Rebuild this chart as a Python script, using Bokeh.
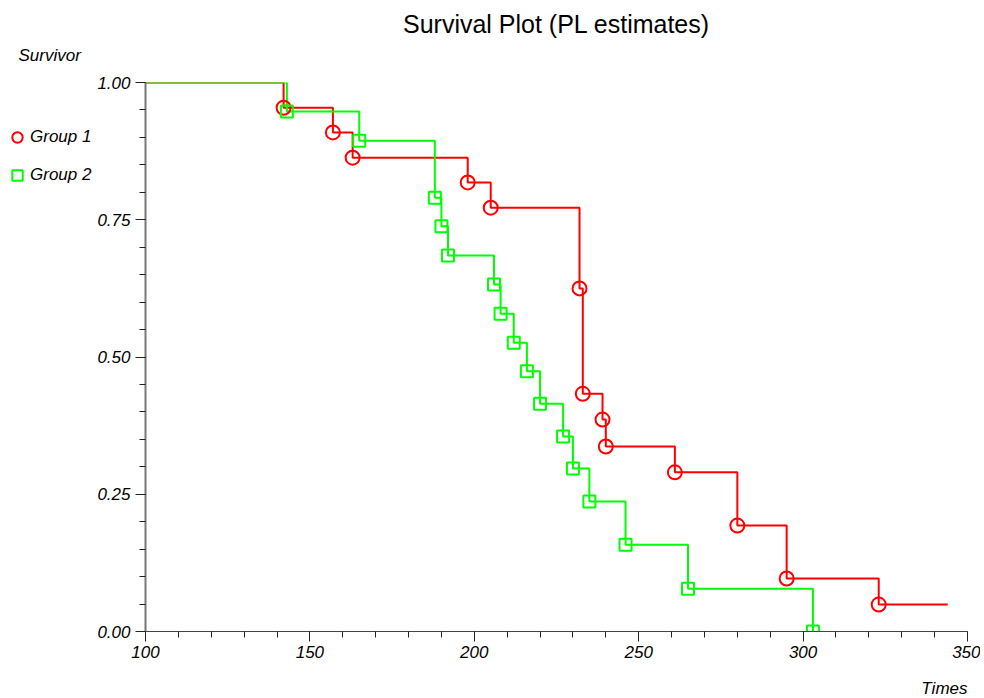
from bokeh.plotting import figure
from bokeh.layouts import row
from bokeh.models import FixedTicker, Legend, LegendItem, Title, Range1d
from bokeh.embed import file_html
from bokeh.resources import INLINE
import numpy as np

# Group 1 (red) event times and survival estimates
g1_times = [100, 142, 157, 163, 198, 205, 232, 233, 239, 240, 261, 280, 295, 323]
g1_surv = [1.0, 0.954, 0.909, 0.863, 0.818, 0.772, 0.625, 0.433, 0.386, 0.337, 0.290, 0.193, 0.0965, 0.049]
g1_end = 344

# Group 2 (green)
g2_times = [100, 143, 165, 188, 190, 192, 206, 208, 212, 216, 220, 227, 230, 235, 246, 265, 303]
g2_surv = [1.0, 0.947, 0.894, 0.790, 0.738, 0.685, 0.632, 0.579, 0.526, 0.474, 0.415, 0.355, 0.297, 0.237, 0.158, 0.078, 0.0]

group_names = ["Group 1", "Group 2"]
x_ticks = [100, 150, 200, 250, 300, 350]
y_ticks = [0.0, 0.25, 0.5, 0.75, 1.0]
y_tick_labels = ["0.00", "0.25", "0.50", "0.75", "1.00"]

FONT = "Liberation Sans"
red = "#FF0000"
green = "#00FF00"
H = 698
LW = 94

# ---- left strip: y-axis caption and legend ----
L = figure(width=LW, height=H, x_range=Range1d(0, 1), y_range=Range1d(0, 1),
           output_backend="svg", toolbar_location=None,
           x_axis_location=None, y_axis_location=None,
           min_border_left=0, min_border_right=0, min_border_top=82, min_border_bottom=67)
L.outline_line_color = None
L.xgrid.visible = False
L.ygrid.visible = False
L.title.text = "Survivor"
L.title.align = "left"
L.title.offset = 18
L.title.standoff = 35
L.title.text_font = FONT
L.title.text_font_style = "italic"
L.title.text_font_size = "17px"
L.title.text_color = "black"

# legend key renderers (their points fall outside this strip's ranges)
lr1 = L.scatter(g1_times[1:], g1_surv[1:], marker="circle", fill_color=None, line_color=red, line_width=2)
lr2 = L.scatter(g2_times[1:], g2_surv[1:], marker="square", fill_color=None, line_color=green, line_width=2)
legend = Legend(items=[LegendItem(label=group_names[0], renderers=[lr1]),
                       LegendItem(label=group_names[1], renderers=[lr2])],
                location=(4, 441), orientation="vertical",
                glyph_width=26, glyph_height=30, label_height=20, label_standoff=0,
                spacing=8, padding=0, margin=0, border_line_color=None,
                background_fill_alpha=0, label_text_font=FONT, label_text_color="black",
                label_text_font_style="italic", label_text_font_size="17px")
L.add_layout(legend, "center")

# ---- main plot ----
p = figure(width=980 - LW, height=H, x_range=(100, 350), y_range=(0, 1),
           output_backend="svg", toolbar_location=None,
           min_border_left=144 - LW, min_border_right=13, min_border_top=82, min_border_bottom=67)
p.title.text = "Survival Plot (PL estimates)"
p.title.align = "center"
p.title.text_font = FONT
p.title.text_font_size = "25px"
p.title.text_font_style = "normal"
p.title.text_color = "black"
p.title.standoff = 0

# spacer between frame and title
p.add_layout(Title(text=" ", text_font_size="2px", standoff=41), "above")

# spacer between x axis and its caption, then the caption
p.add_layout(Title(text=" ", text_font_size="2px", standoff=12), "below")
p.add_layout(Title(text="Times", align="right", standoff=0, text_font=FONT,
                   text_font_style="italic", text_font_size="17px", text_color="black"), "below")

p.outline_line_color = None
p.xgrid.visible = False
p.ygrid.visible = False

p.xaxis.ticker = FixedTicker(ticks=x_ticks, minor_ticks=list(range(100, 351, 10)))
p.yaxis.ticker = FixedTicker(ticks=y_ticks, minor_ticks=[round(v, 2) for v in np.arange(0, 1.001, 0.05)])
p.yaxis.major_label_overrides = {t: l for t, l in zip(y_ticks, y_tick_labels)}
for ax in (p.xaxis, p.yaxis):
    ax.major_label_text_font = FONT
    ax.major_label_text_font_style = "italic"
    ax.major_label_text_font_size = "17px"
    ax.major_label_text_color = "black"
    ax.major_tick_in = 0
    ax.minor_tick_in = 0
    ax.major_tick_out = 10
    ax.minor_tick_out = 6
    ax.major_tick_line_color = "#222222"
    ax.minor_tick_line_color = "#222222"
p.yaxis.axis_line_color = "#777777"
p.yaxis.axis_line_width = 2
p.xaxis.axis_line_color = "#444444"
p.xaxis.major_label_standoff = 4
p.yaxis.major_label_standoff = 5

p.step(g1_times + [g1_end], g1_surv + [g1_surv[-1]], mode="after", line_color=red, line_width=2)
p.step(g2_times, g2_surv, mode="after", line_color=green, line_width=2)
p.scatter(g1_times[1:], g1_surv[1:], marker="circle", size=14, fill_color=None,
          line_color=red, line_width=2)
p.scatter(g2_times[1:], g2_surv[1:], marker="square", size=12, fill_color=None,
          line_color=green, line_width=2)

layout = row(L, p, spacing=0)
open("out.html", "w").write(file_html(layout, INLINE))
